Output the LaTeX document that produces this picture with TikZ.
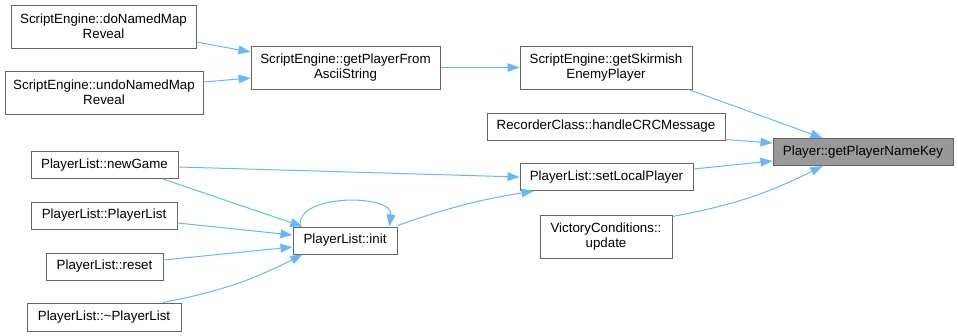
\documentclass[tikz,border=0pt]{standalone}
\usepackage{fontspec}
\setmainfont{Liberation Sans}
\usetikzlibrary{arrows.meta,calc}
\definecolor{callblue}{HTML}{63B8FF}
\definecolor{boxgray}{HTML}{666666}
\definecolor{keygray}{HTML}{999999}
\begin{document}
\begin{tikzpicture}[x=0.75pt, y=-0.75pt, func/.style={rectangle, draw=boxgray, fill=white, line width=0.75pt, inner sep=0pt, minimum height=27*0.75pt, font=\fontsize{10}{11.5}\selectfont}, func2/.style={func, minimum height=43*0.75pt, align=center}, boxw/.style={minimum width=#1*0.75pt}, call/.style={draw=callblue, line width=0.75pt, -{Triangle[length=9pt, width=6.5pt]}}]
		\useasboundingbox (0,0) rectangle (958,336);

		\node[func2, boxw=185] (doNamed) at (103.5, 26.5) {ScriptEngine::doNamedMap\\Reveal};
		\node[func2, boxw=198] (undoNamed) at (104, 92.5) {ScriptEngine::undoNamedMap\\Reveal};
		\node[func2, boxw=189] (fromAscii) at (345.5, 67.5) {ScriptEngine::getPlayerFrom\\AsciiString};
		\node[func2, boxw=172] (skirmish) at (606, 67.5) {ScriptEngine::getSkirmish\\EnemyPlayer};
		\node[func, boxw=238] (recorder) at (606, 126.5) {RecorderClass::handleCRCMessage};
		\node[func, boxw=180, fill=keygray] (nameKey) at (863, 152) {Player::getPlayerNameKey};
		\node[func, boxw=173] (setLocal) at (606.5, 177) {PlayerList::setLocalPlayer};
		\node[func2, boxw=132] (victory) at (606, 236.5) {VictoryConditions::\\update};
		\node[func, boxw=147] (newGame) at (104.5, 165) {PlayerList::newGame};
		\node[func, boxw=146] (ctor) at (104, 215.5) {PlayerList::PlayerList};
		\node[func, boxw=117] (reset) at (104.5, 266.5) {PlayerList::reset};
		\node[func, boxw=154, minimum height=28*0.75pt] (dtor) at (104, 317) {PlayerList::\textasciitilde PlayerList};
		\node[func, boxw=104] (init) at (345, 240.5) {PlayerList::init};

		\draw[call] ($(doNamed.east)+(0,15.5)$) -- ($(fromAscii.west)+(0,-15.5)$);
		\draw[call] ($(undoNamed.east)+(0,-10.5)$) -- ($(fromAscii.west)+(0,10.5)$);
		\draw[call] (fromAscii) -- (skirmish);
		\draw[call] ($(skirmish.south east)+(-4,0)$) -- ($(nameKey.north west)+(50,0)$);
		\draw[call] ($(recorder.south east)+(0,-1)$) -- ($(nameKey.west)+(0,-9)$);
		\draw[call] ($(setLocal.east)+(0,-8)$) -- ($(nameKey.west)+(0,9)$);
		\draw[call] ($(victory.north east)+(0,2)$) to[bend right=8] ($(nameKey.south west)+(50,0)$);
		\draw[call] ($(newGame.east)+(0,2)$) -- (setLocal.west);
		\draw[call] ($(init.north east)+(0,-1)$) to[bend left=5] ($(setLocal.south west)+(14,0)$);
		\draw[call] ($(newGame.south)+(58.5,0)$) -- ($(init.north west)+(10,0)$);
		\draw[call] ($(ctor.east)+(0,7.5)$) -- ($(init.west)+(0,-5.5)$);
		\draw[call] ($(reset.east)+(0,-6.5)$) -- ($(init.west)+(0,6.5)$);
		\draw[call] ($(dtor.north)+(59,0)$) to[bend right=8] ($(init.south west)+(10,0)$);
		\draw[call] ($(init.north west)+(8,0)$) .. controls +(-6,-33) and +(4,-33) .. ($(init.north east)+(-8,0)$);
	\end{tikzpicture}
\end{document}
